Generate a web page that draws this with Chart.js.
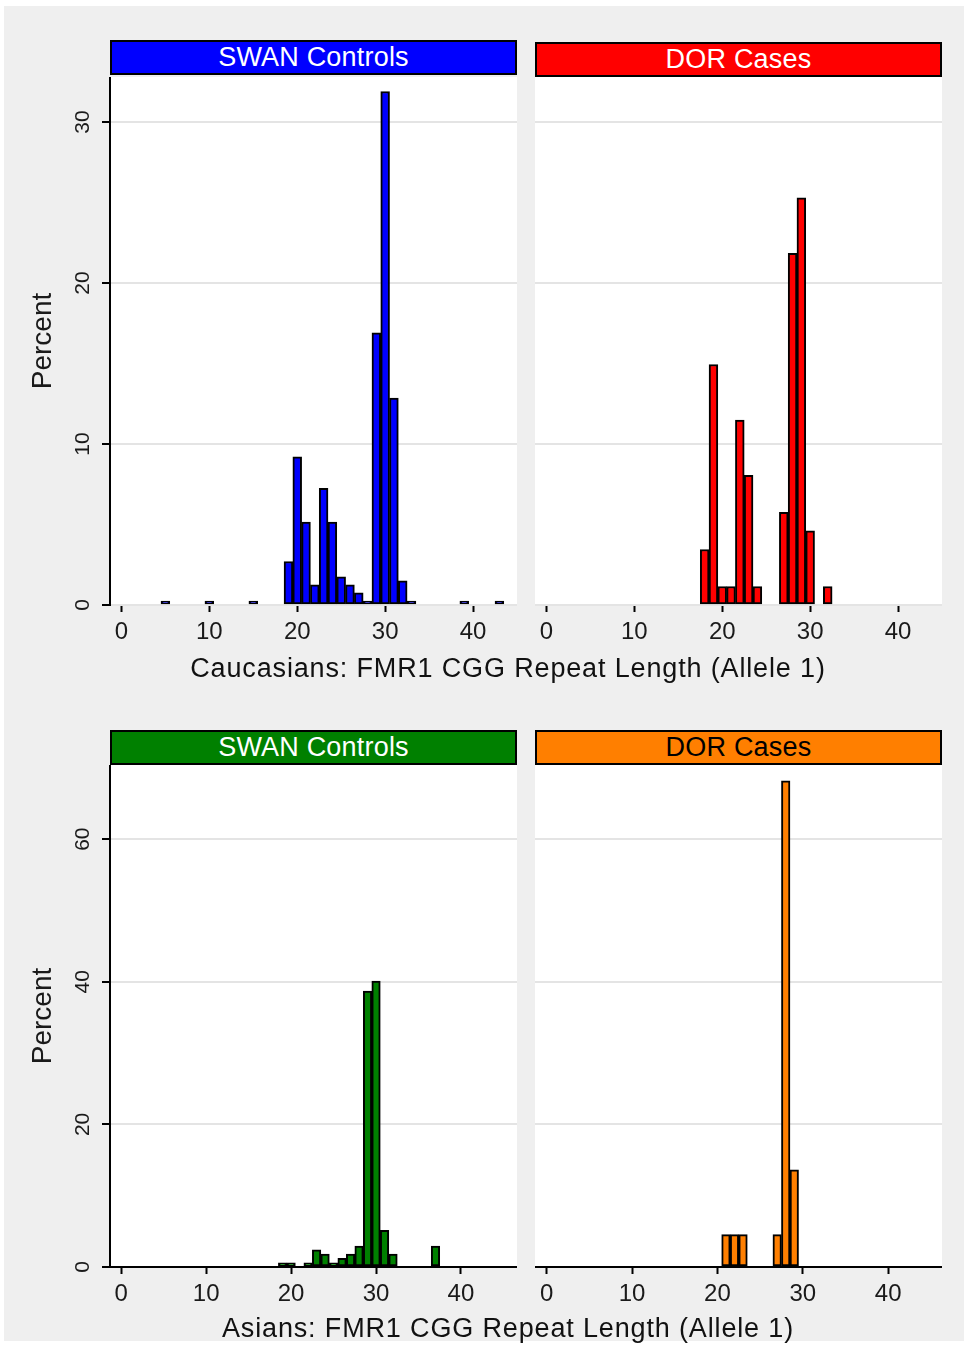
<!DOCTYPE html>
<html>
<head>
<meta charset="utf-8">
<script src="https://cdn.jsdelivr.net/npm/chart.js@4.4.1/dist/chart.umd.min.js"></script>
<style>
  body { margin: 0; background: #fff; width: 969px; height: 1347px; position: relative; overflow: hidden;
         font-family: "Liberation Sans", Arial, sans-serif; }
  #fundo { position: absolute; left: 4px; top: 6px; width: 960px; height: 1335px; background: #efefef; }
  canvas { position: absolute; }
  .cabecalho { position: absolute; box-sizing: border-box; border: 2px solid #000; width: 407px; height: 35px;
               font-size: 27px; line-height: 31px; text-align: center; letter-spacing: 0.2px; }
  .titulo-x { position: absolute; left: 8px; width: 1000px; text-align: center; font-size: 27px;
              line-height: 30px; color: #111; letter-spacing: 0.85px; }
</style>
</head>
<body>
<div id="fundo"></div>

<div class="cabecalho" style="left:110px; top:40px; background:#0000ff; color:#fff;">SWAN Controls</div>
<div class="cabecalho" style="left:535px; top:42px; background:#ff0000; color:#fff;">DOR Cases</div>
<div class="cabecalho" style="left:110px; top:730px; background:#008000; color:#fff;">SWAN Controls</div>
<div class="cabecalho" style="left:535px; top:730px; background:#ff7f00; color:#000;">DOR Cases</div>

<canvas id="cauControles" width="501" height="578" style="left:16px; top:77px;"></canvas>
<canvas id="cauCasos" width="407" height="578" style="left:535px; top:77px;"></canvas>
<canvas id="asiControles" width="501" height="552" style="left:16px; top:765px;"></canvas>
<canvas id="asiCasos" width="407" height="552" style="left:535px; top:765px;"></canvas>

<div class="titulo-x" style="top:653px;">Caucasians: FMR1 CGG Repeat Length (Allele 1)</div>
<div class="titulo-x" style="top:1313px;">Asians: FMR1 CGG Repeat Length (Allele 1)</div>

<script>
const xTicks = [0, 10, 20, 30, 40];
const yTicksCau = [0, 10, 20, 30];
const yTicksAsi = [0, 20, 40, 60];

// Caucasians, SWAN controls
const cauControlBins = [5, 10, 15, 19, 20, 21, 22, 23, 24, 25, 26, 27, 28, 29, 30, 31, 32, 33, 39, 43];
const cauControlPct = [0.25, 0.25, 0.25, 2.7, 9.2, 5.15, 1.25, 7.25, 5.15, 1.75, 1.25, 0.75, 0.25, 16.9, 31.9, 12.85, 1.5, 0.25, 0.25, 0.25];

// Caucasians, DOR cases
const cauCaseBins = [18, 19, 20, 21, 22, 23, 24, 27, 28, 29, 30, 32];
const cauCasePct = [3.45, 14.94, 1.15, 1.15, 11.49, 8.05, 1.15, 5.75, 21.84, 25.29, 4.6, 1.15];

// Asians, SWAN controls
const asiControlBins = [19, 20, 22, 23, 24, 25, 26, 27, 28, 29, 30, 31, 32, 37];
const asiControlPct = [0.6, 0.6, 0.6, 2.4, 1.8, 0.6, 1.2, 1.8, 2.95, 38.7, 40.1, 5.15, 1.8, 2.95];

// Asians, DOR cases
const asiCaseBins = [21, 22, 23, 27, 28, 29];
const asiCasePct = [4.55, 4.55, 4.55, 4.55, 68.18, 13.64];

const fonte = '"Liberation Sans", Arial, sans-serif';

// fundo branco so na area do grafico
const fundoBranco = {
    id: 'fundoBranco',
    beforeDraw(chart) {
        const { ctx, chartArea: a } = chart;
        ctx.save();
        ctx.fillStyle = '#fff';
        ctx.fillRect(a.left, a.top, a.right - a.left, a.bottom - a.top);
        ctx.restore();
    }
};

function criarPainel(id, bins, valores, cor, cfg) {
    return new Chart(document.getElementById(id), {
        type: 'bar',
        data: {
            datasets: [{
                data: bins.map((b, i) => ({ x: b, y: valores[i] })),
                backgroundColor: cor,
                borderColor: '#000',
                borderWidth: 2,
                borderSkipped: false,
                categoryPercentage: 1,
                barPercentage: 1
            }]
        },
        options: {
            responsive: false,
            animation: false,
            events: [],
            layout: { padding: 0 },
            plugins: { legend: { display: false }, tooltip: { enabled: false } },
            scales: {
                x: {
                    type: 'linear',
                    offset: false,
                    min: cfg.xMin,
                    max: cfg.xMax,
                    afterBuildTicks: s => { s.ticks = xTicks.map(v => ({ value: v })); },
                    afterFit: s => { s.height = 50; s.paddingLeft = 0; s.paddingRight = 0; },
                    grid: { offset: false, drawOnChartArea: false, drawTicks: true, tickLength: 7, tickColor: '#000', tickWidth: 2 },
                    border: { display: cfg.linhaX, color: '#000', width: 2 },
                    ticks: { font: { family: fonte, size: 24 }, color: '#1a1a1a', padding: 6, maxRotation: 0, minRotation: 0 }
                },
                y: {
                    min: 0,
                    max: cfg.yMax,
                    afterBuildTicks: s => { s.ticks = cfg.yTicks.map(v => ({ value: v })); },
                    afterFit: s => { s.width = cfg.larguraY; s.paddingTop = 0; s.paddingBottom = 0; },
                    grid: { color: '#e4e4e4', lineWidth: 2, drawTicks: cfg.eixoY, tickLength: 8, tickColor: '#000', tickWidth: 2 },
                    border: { display: cfg.eixoY, color: '#000', width: 2 },
                    ticks: {
                        display: cfg.eixoY, minRotation: 90, maxRotation: 90, crossAlign: 'center',
                        padding: 7, font: { family: fonte, size: 21 }, color: '#1a1a1a'
                    },
                    title: {
                        display: cfg.eixoY, text: 'Percent', color: '#1a1a1a',
                        font: { family: fonte, size: 28 }, padding: { top: 10, bottom: 0 }
                    }
                }
            }
        },
        plugins: [fundoBranco]
    });
}

criarPainel('cauControles', cauControlBins, cauControlPct, '#0000ff',
    { xMin: -1.3, xMax: 45, yMax: 32.8, yTicks: yTicksCau, eixoY: true, larguraY: 94, linhaX: false });
criarPainel('cauCasos', cauCaseBins, cauCasePct, '#ff0000',
    { xMin: -1.3, xMax: 45, yMax: 32.8, yTicks: yTicksCau, eixoY: false, larguraY: 0, linhaX: false });
criarPainel('asiControles', asiControlBins, asiControlPct, '#008000',
    { xMin: -1.33, xMax: 46.6, yMax: 70.4, yTicks: yTicksAsi, eixoY: true, larguraY: 94, linhaX: true });
criarPainel('asiCasos', asiCaseBins, asiCasePct, '#ff7f00',
    { xMin: -1.36, xMax: 46.3, yMax: 70.4, yTicks: yTicksAsi, eixoY: false, larguraY: 0, linhaX: true });
</script>
</body>
</html>
